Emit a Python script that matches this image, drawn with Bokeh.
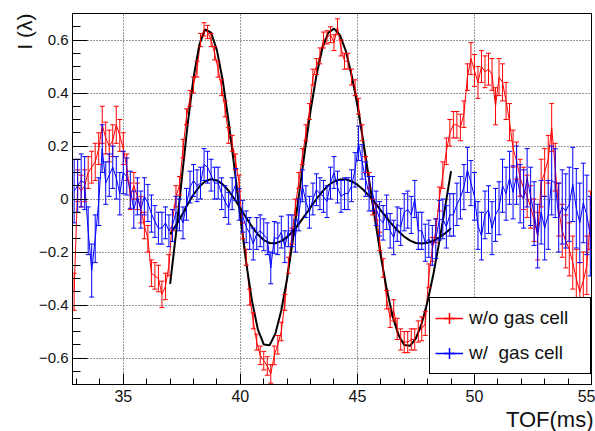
import math
from bokeh.plotting import figure
from bokeh.models import (ColumnDataSource, Whisker, TeeHead, FixedTicker, Range1d,
                          Title, Legend, LegendItem, CustomJSTickFormatter)
from bokeh.embed import file_html
from bokeh.resources import INLINE

# ---------------- data ----------------
TOF_FIRST = 32.90     # first bin centre (ms)
TOF_BIN = 0.15        # bin width (ms)

red_vals = [
    -0.35, 0.05, 0.03, 0.05, 0.10, 0.12, 0.14, 0.19, 0.28, 0.23,
    0.20, 0.22, 0.28, 0.24, 0.19, 0.12, 0.01, 0.05, 0.01, -0.04,
    -0.10, -0.15, -0.28, -0.29, -0.30, -0.36, -0.33, -0.25, -0.08, 0.01,
    0.05, 0.19, 0.31, 0.38, 0.43, 0.49, 0.60, 0.64, 0.63, 0.60,
    0.55, 0.49, 0.42, 0.34, 0.24, 0.21, 0.14, 0.06, -0.12, -0.22,
    -0.37, -0.46, -0.54, -0.59, -0.61, -0.63, -0.66, -0.59, -0.55, -0.50,
    -0.39, -0.25, -0.14, -0.03, 0.07, 0.16, 0.25, 0.33, 0.46, 0.50,
    0.54, 0.60, 0.61, 0.62, 0.59, 0.65, 0.57, 0.52, 0.52, 0.46,
    0.42, 0.35, 0.25, 0.13, 0.07, -0.03, -0.05, -0.16, -0.26, -0.38,
    -0.45, -0.42, -0.49, -0.53, -0.54, -0.54, -0.53, -0.53, -0.50, -0.49,
    -0.47, -0.29, -0.19, -0.12, 0.00, 0.09, 0.18, 0.25, 0.28, 0.28,
    0.27, 0.32, 0.46, 0.53, 0.485, 0.44, 0.50, 0.48, 0.49, 0.47,
    0.35, 0.46, 0.44, 0.37, 0.29, 0.19, 0.145, 0.08, 0.04, 0.01,
    -0.03, -0.08, -0.14, 0.06, 0.10, 0.15, 0.27, 0.12, -0.04, -0.12,
    -0.16, -0.19, -0.24, -0.30, -0.35, -0.31, -0.25, -0.08,
]
red_errs = [
    0.07, 0.06, 0.06, 0.06, 0.06, 0.06, 0.07, 0.06, 0.07, 0.06,
    0.06, 0.06, 0.07, 0.06, 0.06, 0.05, 0.05, 0.05, 0.05, 0.05,
    0.05, 0.05, 0.05, 0.05, 0.05, 0.05, 0.05, 0.04, 0.04, 0.04,
    0.035, 0.035, 0.03, 0.03, 0.03, 0.03, 0.025, 0.025, 0.025, 0.025,
    0.025, 0.03, 0.03, 0.03, 0.03, 0.03, 0.03, 0.03, 0.03, 0.03,
    0.03, 0.03, 0.03, 0.035, 0.035, 0.035, 0.035, 0.035, 0.035, 0.035,
    0.03, 0.03, 0.03, 0.03, 0.03, 0.03, 0.03, 0.03, 0.03, 0.03,
    0.03, 0.03, 0.025, 0.03, 0.03, 0.03, 0.03, 0.03, 0.03, 0.03,
    0.03, 0.03, 0.03, 0.03, 0.03, 0.03, 0.03, 0.035, 0.035, 0.035,
    0.035, 0.04, 0.04, 0.04, 0.04, 0.04, 0.04, 0.04, 0.04, 0.045,
    0.045, 0.045, 0.045, 0.045, 0.045, 0.05, 0.05, 0.05, 0.05, 0.05,
    0.05, 0.05, 0.05, 0.06, 0.06, 0.06, 0.06, 0.06, 0.06, 0.06,
    0.07, 0.07, 0.07, 0.07, 0.07, 0.07, 0.07, 0.07, 0.08, 0.08,
    0.08, 0.08, 0.09, 0.09, 0.09, 0.09, 0.09, 0.09, 0.10, 0.10,
    0.10, 0.10, 0.10, 0.11, 0.11, 0.11, 0.11, 0.11,
]
blue_vals = [
    0.03, 0.05, 0.07, 0.06, -0.12, -0.27, -0.15, -0.01, 0.19, 0.06,
    0.09, 0.12, 0.08, 0.02, 0.10, 0.085, 0.035, -0.04, 0.01, -0.04,
    0.01, -0.015, -0.055, -0.085, -0.11, -0.11, -0.09, -0.12, -0.10, -0.05,
    -0.06, -0.09, -0.02, 0.045, 0.07, 0.05, 0.06, 0.13, 0.12, 0.09,
    0.06, 0.06, 0.02, -0.01, -0.035, 0.02, 0.055, -0.02, -0.065, -0.105,
    -0.13, -0.17, -0.13, -0.12, -0.135, -0.15, -0.26, -0.145, -0.15, -0.125,
    -0.18, -0.12, -0.12, -0.14, -0.06, 0.05, -0.01, -0.05, 0.00, 0.035,
    0.02, 0.01, -0.01, 0.06, 0.10, 0.045, 0.01, 0.02, 0.02, 0.05,
    0.11, 0.21, 0.14, 0.075, 0.02, 0.02, -0.035, -0.075, -0.09, -0.05,
    -0.12, -0.145, -0.095, -0.105, -0.05, -0.04, -0.06, 0.00, -0.12, -0.12,
    -0.165, -0.15, -0.175, -0.15, -0.08, -0.075, -0.105, -0.06, -0.06, -0.02,
    0.005, 0.045, 0.11, 0.06, 0.01, -0.10, -0.14, -0.06, -0.04, -0.11,
    -0.06, -0.035, 0.05, 0.02, 0.08, 0.025, 0.09, 0.02, 0.00, 0.08,
    0.01, -0.055, -0.14, -0.05, -0.11, -0.06, 0.07, 0.06, -0.07, -0.03,
    -0.045, -0.02, 0.055, -0.035, -0.09, -0.015, -0.06, -0.14,
]
blue_errs = [
    0.12, 0.10, 0.10, 0.10, 0.09, 0.10, 0.09, 0.09, 0.09, 0.08,
    0.08, 0.08, 0.08, 0.08, 0.08, 0.07, 0.07, 0.07, 0.07, 0.07,
    0.07, 0.07, 0.07, 0.06, 0.06, 0.06, 0.06, 0.06, 0.06, 0.06,
    0.06, 0.06, 0.06, 0.06, 0.06, 0.06, 0.06, 0.06, 0.06, 0.06,
    0.06, 0.06, 0.06, 0.06, 0.06, 0.06, 0.06, 0.06, 0.06, 0.06,
    0.06, 0.06, 0.06, 0.06, 0.06, 0.06, 0.06, 0.06, 0.06, 0.06,
    0.06, 0.06, 0.06, 0.06, 0.06, 0.06, 0.06, 0.06, 0.06, 0.06,
    0.06, 0.06, 0.06, 0.06, 0.06, 0.06, 0.06, 0.06, 0.06, 0.06,
    0.065, 0.065, 0.065, 0.065, 0.065, 0.065, 0.065, 0.065, 0.065, 0.065,
    0.065, 0.065, 0.065, 0.07, 0.07, 0.07, 0.07, 0.07, 0.07, 0.07,
    0.07, 0.07, 0.075, 0.075, 0.075, 0.075, 0.08, 0.08, 0.08, 0.08,
    0.08, 0.085, 0.085, 0.085, 0.09, 0.09, 0.09, 0.09, 0.09, 0.10,
    0.10, 0.10, 0.10, 0.10, 0.10, 0.10, 0.11, 0.11, 0.11, 0.11,
    0.11, 0.12, 0.12, 0.12, 0.12, 0.13, 0.13, 0.13, 0.13, 0.14,
    0.14, 0.14, 0.14, 0.15, 0.15, 0.15, 0.15, 0.15,
]

fit_tof = [
    37.00, 37.25, 37.50, 37.75, 38.00, 38.25, 38.50, 38.75, 39.00, 39.25,
    39.50, 39.75, 40.00, 40.25, 40.50, 40.75, 41.00, 41.25, 41.50, 41.75,
    42.00, 42.25, 42.50, 42.75, 43.00, 43.25, 43.50, 43.75, 44.00, 44.25,
    44.50, 44.75, 45.00, 45.25, 45.50, 45.75, 46.00, 46.25, 46.50, 46.75,
    47.00, 47.25, 47.50, 47.75, 48.00, 48.25, 48.50, 48.75, 49.00,
]
fit_red = [
    -0.320, -0.132, 0.078, 0.283, 0.458, 0.583, 0.640, 0.628, 0.561, 0.446,
    0.292, 0.116, -0.067, -0.240, -0.386, -0.493, -0.549, -0.552, -0.507, -0.420,
    -0.299, -0.150, 0.013, 0.178, 0.334, 0.466, 0.567, 0.627, 0.643, 0.619,
    0.560, 0.469, 0.353, 0.218, 0.073, -0.075, -0.216, -0.339, -0.441, -0.513,
    -0.551, -0.554, -0.526, -0.469, -0.386, -0.282, -0.161, -0.030, 0.105,
]
fit_blue = [
    -0.133, -0.099, -0.061, -0.020, 0.017, 0.047, 0.067, 0.075, 0.070, 0.055,
    0.031, 0.000, -0.035, -0.071, -0.105, -0.134, -0.155, -0.166, -0.167, -0.159,
    -0.144, -0.121, -0.094, -0.063, -0.031, 0.000, 0.028, 0.051, 0.066, 0.074,
    0.074, 0.067, 0.054, 0.035, 0.012, -0.014, -0.043, -0.071, -0.098, -0.122,
    -0.142, -0.157, -0.166, -0.168, -0.165, -0.157, -0.145, -0.129, -0.110,
]

x_major = [35, 40, 45, 50, 55]
x_minor = [33, 34, 36, 37, 38, 39, 41, 42, 43, 44, 46, 47, 48, 49, 51, 52, 53, 54]
y_major = [-0.6, -0.4, -0.2, 0.0, 0.2, 0.4, 0.6]
y_minor = [-0.65, -0.55, -0.5, -0.45, -0.35, -0.3, -0.25, -0.15, -0.1, -0.05,
           0.05, 0.1, 0.15, 0.25, 0.3, 0.35, 0.45, 0.5, 0.55, 0.65]

series_labels = ["w/o gas cell", "w/  gas cell"]
series_colors = ["red", "blue"]
x_title = "TOF(ms)"
y_title = "I (\u03bb)"

# ---------------- build ----------------
n = min(len(red_vals), len(red_errs), len(blue_vals), len(blue_errs))
tof = [round(TOF_FIRST + TOF_BIN * i, 3) for i in range(n)]

def make_src(vals, errs):
    return ColumnDataSource(dict(
        tof=tof, val=vals[:n],
        lo=[v - e for v, e in zip(vals[:n], errs[:n])],
        hi=[v + e for v, e in zip(vals[:n], errs[:n])]))

src_red = make_src(red_vals, red_errs)
src_blue = make_src(blue_vals, blue_errs)
m = min(len(fit_tof), len(fit_red), len(fit_blue))
src_fit = ColumnDataSource(dict(t=fit_tof[:m], r=fit_red[:m], b=fit_blue[:m]))

FONT = "Liberation Sans"
W, H = 595, 431
BL, BR, BT, BB = 72, 4, 13, 44
FW, FH = W - BL - BR, H - BT - BB

p = figure(width=W, height=H, output_backend="svg", toolbar_location=None,
           x_range=Range1d(32.83, 55.0), y_range=Range1d(-0.70, 0.70),
           min_border_left=BL, min_border_right=BR, min_border_top=BT, min_border_bottom=BB)
p.background_fill_color = "white"
p.border_fill_color = "white"
p.outline_line_color = "black"
p.outline_line_width = 1

# axes
p.xaxis.ticker = FixedTicker(ticks=x_major, minor_ticks=x_minor)
p.yaxis.ticker = FixedTicker(ticks=y_major, minor_ticks=y_minor)
p.yaxis.formatter = CustomJSTickFormatter(code="""
    if (Math.abs(tick) < 1e-9) { return "0"; }
    const s = Math.abs(tick).toFixed(1);
    return tick < 0 ? "\u2212" + s : s;
""")
for ax in (p.xaxis[0], p.yaxis[0]):
    ax.axis_line_color = "black"
    ax.major_tick_line_color = "black"
    ax.minor_tick_line_color = "black"
    ax.major_tick_out = 0
    ax.minor_tick_out = 0
    ax.major_label_text_font = FONT
    ax.major_label_text_color = "#111111"
p.xaxis.major_tick_in = 11
p.xaxis.minor_tick_in = 6
p.xaxis.major_label_text_font_size = "16px"
p.xaxis.major_label_standoff = 5
p.yaxis.major_tick_in = 15
p.yaxis.minor_tick_in = 8
p.yaxis.major_label_text_font_size = "15px"
p.yaxis.major_label_standoff = 4

# grid
p.xgrid.ticker = FixedTicker(ticks=x_major)
p.ygrid.ticker = FixedTicker(ticks=y_major)
for g in (p.xgrid[0], p.ygrid[0]):
    g.grid_line_color = "#333333"
    g.grid_line_dash = "1 2"
    g.grid_line_width = 1

# data: error bars + connecting lines
def draw_series(src, color):
    wh = Whisker(base="tof", lower="lo", upper="hi", dimension="height", source=src,
                 line_color=color, line_width=1, level="glyph",
                 upper_head=TeeHead(size=5, line_color=color, line_width=1),
                 lower_head=TeeHead(size=5, line_color=color, line_width=1))
    p.add_layout(wh)
    p.line("tof", "val", source=src, line_color=color, line_width=1)

draw_series(src_red, series_colors[0])
draw_series(src_blue, series_colors[1])

p.line("t", "r", source=src_fit, line_color="black", line_width=2)
p.line("t", "b", source=src_fit, line_color="black", line_width=2)

# legend symbols: dedicated renderers without visible data
items = []
for lab, col in zip(series_labels, series_colors):
    ksrc = ColumnDataSource(dict(x=[float("nan")], y=[float("nan")]))
    r_line = p.line("x", "y", source=ksrc, line_color=col, line_width=1.5)
    r_cross = p.scatter("x", "y", source=ksrc, marker="cross", line_color=col,
                        fill_color=None, line_width=1.5)
    items.append(LegendItem(label=lab, renderers=[r_line, r_cross]))

legend = Legend(
    items=items,
    location=(FW - 2 - 160, 10), orientation="vertical",
    border_line_color="black", border_line_width=1, border_line_alpha=1,
    background_fill_color="white", background_fill_alpha=1,
    label_text_font=FONT, label_text_font_size="19px", label_text_color="#111111",
    label_text_baseline="middle",
    glyph_width=28, glyph_height=30, label_height=30, label_width=116,
    spacing=5, padding=5, label_standoff=6, margin=0)
p.add_layout(legend)

# axis titles
p.add_layout(Title(text=x_title, align="right", text_font=FONT, text_font_size="22px",
                   text_font_style="normal", text_color="#111111", standoff=0, offset=-2),
             "below")
p.add_layout(Title(text=y_title, align="right", text_font=FONT, text_font_size="21px",
                   text_font_style="normal", text_color="#111111", standoff=0, offset=0),
             "left")

with open("out.html", "w", encoding="utf-8") as f:
    f.write(file_html(p, INLINE))
